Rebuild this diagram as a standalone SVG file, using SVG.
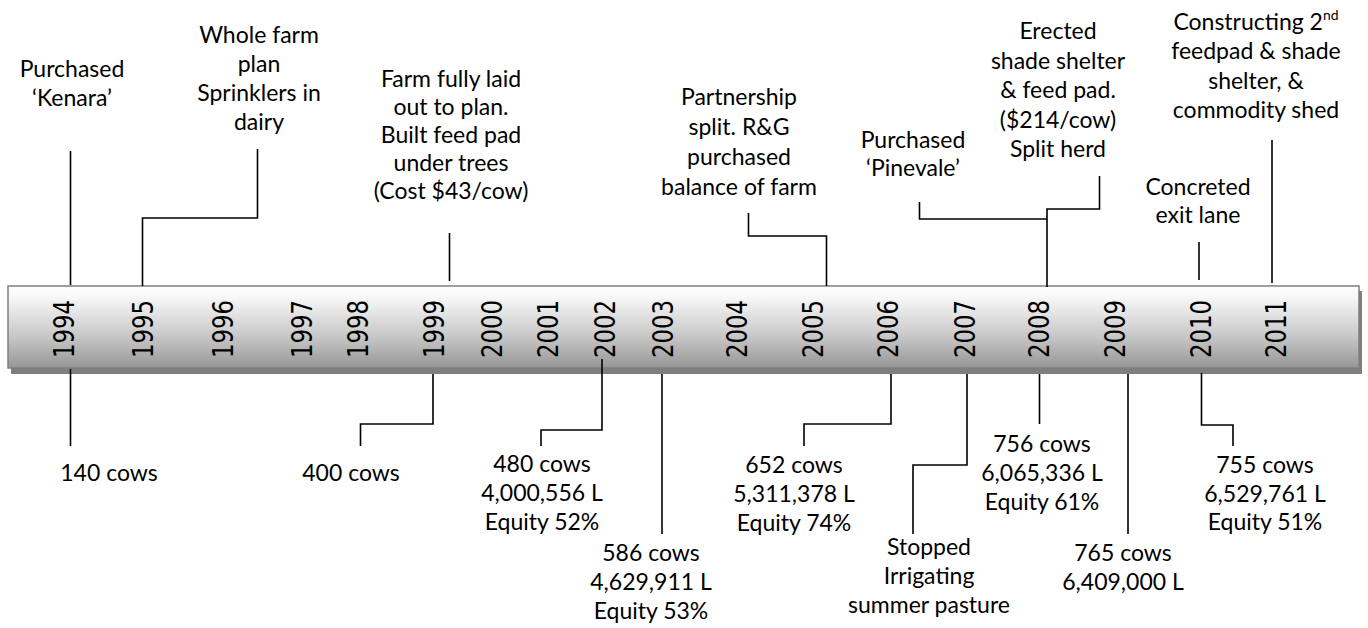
<svg xmlns="http://www.w3.org/2000/svg" width="1368" height="628" viewBox="0 0 1368 628">
<defs>
<linearGradient id="barGrad" x1="0" y1="0" x2="0" y2="1">
<stop offset="0" stop-color="#ffffff"/>
<stop offset="0.15" stop-color="#f6f6f6"/>
<stop offset="0.6" stop-color="#c9c9c9"/>
<stop offset="1" stop-color="#969696"/>
</linearGradient>
</defs>
<style>
.t{font-family:Lato,"Liberation Sans",sans-serif;font-size:23px;fill:#000;text-anchor:middle}
.y{font-family:"DejaVu Sans",Verdana,sans-serif;font-size:28px;fill:#000;text-anchor:middle}
.c{fill:none;stroke:#000;stroke-width:1.6}
</style>
<rect width="1368" height="628" fill="#ffffff"/>
<g id="timeline-bar">
<rect x="11" y="291" width="1351" height="83" fill="#7f7f7f"/>
<rect x="8" y="286" width="1351" height="82" fill="url(#barGrad)" stroke="#7f7f7f" stroke-width="1.5"/>
</g>
<g id="years">
<text class="y" transform="translate(74,329) rotate(-90)" textLength="58" lengthAdjust="spacingAndGlyphs">1994</text>
<text class="y" transform="translate(153,329) rotate(-90)" textLength="58" lengthAdjust="spacingAndGlyphs">1995</text>
<text class="y" transform="translate(233,329) rotate(-90)" textLength="58" lengthAdjust="spacingAndGlyphs">1996</text>
<text class="y" transform="translate(312,329) rotate(-90)" textLength="58" lengthAdjust="spacingAndGlyphs">1997</text>
<text class="y" transform="translate(368,329) rotate(-90)" textLength="58" lengthAdjust="spacingAndGlyphs">1998</text>
<text class="y" transform="translate(444,329) rotate(-90)" textLength="58" lengthAdjust="spacingAndGlyphs">1999</text>
<text class="y" transform="translate(502,329) rotate(-90)" textLength="58" lengthAdjust="spacingAndGlyphs">2000</text>
<text class="y" transform="translate(558,329) rotate(-90)" textLength="58" lengthAdjust="spacingAndGlyphs">2001</text>
<text class="y" transform="translate(615,329) rotate(-90)" textLength="58" lengthAdjust="spacingAndGlyphs">2002</text>
<text class="y" transform="translate(673,329) rotate(-90)" textLength="58" lengthAdjust="spacingAndGlyphs">2003</text>
<text class="y" transform="translate(747,329) rotate(-90)" textLength="58" lengthAdjust="spacingAndGlyphs">2004</text>
<text class="y" transform="translate(823,329) rotate(-90)" textLength="58" lengthAdjust="spacingAndGlyphs">2005</text>
<text class="y" transform="translate(898,329) rotate(-90)" textLength="58" lengthAdjust="spacingAndGlyphs">2006</text>
<text class="y" transform="translate(975,329) rotate(-90)" textLength="58" lengthAdjust="spacingAndGlyphs">2007</text>
<text class="y" transform="translate(1049,329) rotate(-90)" textLength="58" lengthAdjust="spacingAndGlyphs">2008</text>
<text class="y" transform="translate(1125,329) rotate(-90)" textLength="58" lengthAdjust="spacingAndGlyphs">2009</text>
<text class="y" transform="translate(1211,329) rotate(-90)" textLength="58" lengthAdjust="spacingAndGlyphs">2010</text>
<text class="y" transform="translate(1286,329) rotate(-90)" textLength="58" lengthAdjust="spacingAndGlyphs">2011</text>
</g>
<g id="connectors">
<path class="c" d="M70.5,151 V285"/>
<path class="c" d="M257.5,149 V218 H142.5 V286"/>
<path class="c" d="M449.5,233 V281"/>
<path class="c" d="M748.5,213 V236 H826.5 V286"/>
<path class="c" d="M1099.5,176 V209 H1047 V287"/>
<path class="c" d="M919.5,202 V219 H1047"/>
<path class="c" d="M1199,242 V280"/>
<path class="c" d="M1272,140 V283"/>
<path class="c" d="M70.5,369 V446"/>
<path class="c" d="M433,374 V424 H360.5 V446"/>
<path class="c" d="M602,359 V430 H541 V446"/>
<path class="c" d="M662,374 V534"/>
<path class="c" d="M891,374 V424 H804 V446"/>
<path class="c" d="M967,374 V465 H913 V534"/>
<path class="c" d="M1039.5,374 V424"/>
<path class="c" d="M1128,374 V534"/>
<path class="c" d="M1201.5,373 V425 H1233 V446"/>
</g>
<g id="ev-1994">
<text class="t" x="72" y="77">Purchased</text>
<text class="t" x="72" y="106">‘Kenara’</text>
</g>
<g id="ev-1995">
<text class="t" x="259" y="43">Whole farm</text>
<text class="t" x="259" y="72">plan</text>
<text class="t" x="259" y="101">Sprinklers in</text>
<text class="t" x="259" y="130">dairy</text>
</g>
<g id="ev-1999">
<text class="t" x="451" y="87">Farm fully laid</text>
<text class="t" x="451" y="115">out to plan.</text>
<text class="t" x="451" y="143">Built feed pad</text>
<text class="t" x="451" y="171">under trees</text>
<text class="t" x="451" y="199">(Cost $43/cow)</text>
</g>
<g id="ev-2005">
<text class="t" x="739" y="105">Partnership</text>
<text class="t" x="739" y="135">split. R&amp;G</text>
<text class="t" x="739" y="165">purchased</text>
<text class="t" x="739" y="195">balance of farm</text>
</g>
<g id="ev-2007-pinevale">
<text class="t" x="913" y="148">Purchased</text>
<text class="t" x="913" y="176">‘Pinevale’</text>
</g>
<g id="ev-2008">
<text class="t" x="1058" y="39">Erected</text>
<text class="t" x="1058" y="69">shade shelter</text>
<text class="t" x="1058" y="98">&amp; feed pad.</text>
<text class="t" x="1058" y="128">($214/cow)</text>
<text class="t" x="1058" y="157">Split herd</text>
</g>
<g id="ev-2010">
<text class="t" x="1198" y="195">Concreted</text>
<text class="t" x="1198" y="223">exit lane</text>
</g>
<g id="ev-2011">
<text class="t" x="1256" y="30">Constructing 2<tspan font-size="14" dy="-10">nd</tspan></text>
<text class="t" x="1256" y="59">feedpad &amp; shade</text>
<text class="t" x="1256" y="89">shelter, &amp;</text>
<text class="t" x="1256" y="118">commodity shed</text>
</g>
<g id="st-1994">
<text class="t" x="109" y="481">140 cows</text>
</g>
<g id="st-1999">
<text class="t" x="351" y="481">400 cows</text>
</g>
<g id="st-2002">
<text class="t" x="542" y="472">480 cows</text>
<text class="t" x="542" y="501">4,000,556 L</text>
<text class="t" x="542" y="530">Equity 52%</text>
</g>
<g id="st-2003">
<text class="t" x="651" y="561">586 cows</text>
<text class="t" x="651" y="590">4,629,911 L</text>
<text class="t" x="651" y="619">Equity 53%</text>
</g>
<g id="st-2006">
<text class="t" x="794" y="473">652 cows</text>
<text class="t" x="794" y="502">5,311,378 L</text>
<text class="t" x="794" y="531">Equity 74%</text>
</g>
<g id="st-2007">
<text class="t" x="929" y="555">Stopped</text>
<text class="t" x="929" y="584">Irrigating</text>
<text class="t" x="929" y="613">summer pasture</text>
</g>
<g id="st-2008">
<text class="t" x="1042" y="452">756 cows</text>
<text class="t" x="1042" y="481">6,065,336 L</text>
<text class="t" x="1042" y="510">Equity 61%</text>
</g>
<g id="st-2009">
<text class="t" x="1123" y="561">765 cows</text>
<text class="t" x="1123" y="590">6,409,000 L</text>
</g>
<g id="st-2010">
<text class="t" x="1265" y="473">755 cows</text>
<text class="t" x="1265" y="502">6,529,761 L</text>
<text class="t" x="1265" y="530">Equity 51%</text>
</g>
</svg>
